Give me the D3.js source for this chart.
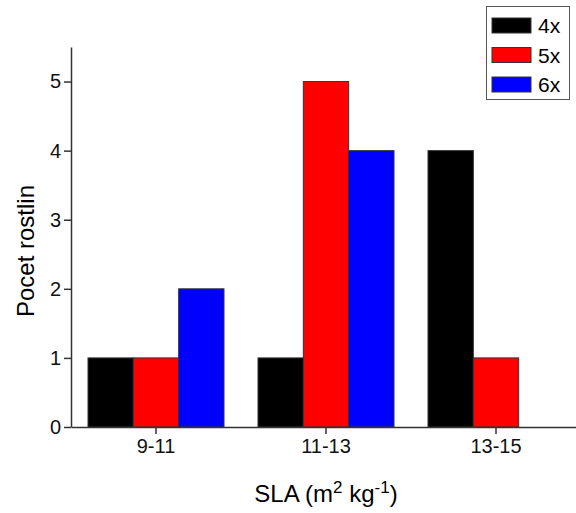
<!DOCTYPE html>
<html>
<head>
<meta charset="utf-8">
<script src="https://cdn.jsdelivr.net/npm/d3@7"></script>
<style>
  body { margin: 0; background: #fff; }
  svg { display: block; font-family: "Liberation Sans", Arial, sans-serif; }
  .axis path, .axis line { stroke: #333; stroke-width: 1.5; }
  .axis text { font-size: 20px; fill: #111; }
</style>
</head>
<body>
<svg id="chart" width="576" height="513"></svg>
<script>
var categories = ["9-11", "11-13", "13-15"];
var seriesNames = ["4x", "5x", "6x"];
var seriesColors = ["#000000", "#ff0000", "#0000ff"];
var values4x = [1, 1, 4];
var values5x = [1, 5, 1];
var values6x = [2, 4, 0];
var yTicks = [0, 1, 2, 3, 4, 5];

var allValues = [values4x, values5x, values6x];

var svg = d3.select("#chart");

var plotLeft = 71, plotBottom = 427, plotTop = 47;

var xScale = d3.scaleBand()
    .domain(categories)
    .range([plotLeft, plotLeft + 510])
    .paddingInner(0.2)
    .paddingOuter(0.1);

var xSub = d3.scaleBand()
    .domain(seriesNames)
    .range([0, xScale.bandwidth()]);

var yScale = d3.scaleLinear()
    .domain([0, 5.5])
    .range([plotBottom, plotTop]);

// bars
var groups = svg.append("g").selectAll("g")
    .data(categories)
    .enter()
    .append("g")
    .attr("transform", function(d) { return "translate(" + xScale(d) + ",0)"; });

groups.selectAll("rect")
    .data(function(d, i) {
        return seriesNames.map(function(s, j) {
            return { series: s, value: allValues[j][i], color: seriesColors[j] };
        }).filter(function(e) { return e.value > 0; });
    })
    .enter()
    .append("rect")
    .attr("x", function(d) { return xSub(d.series); })
    .attr("y", function(d) { return yScale(d.value); })
    .attr("width", xSub.bandwidth())
    .attr("height", function(d) { return plotBottom - yScale(d.value); })
    .attr("fill", function(d) { return d.color; })
    .attr("stroke", "#333")
    .attr("stroke-width", 1);

// axes
svg.append("g")
    .attr("class", "axis")
    .attr("transform", "translate(0," + plotBottom + ")")
    .call(d3.axisBottom(xScale).tickSizeInner(7).tickSizeOuter(0).tickPadding(5));

svg.append("g")
    .attr("class", "axis")
    .attr("transform", "translate(" + plotLeft + ",0)")
    .call(d3.axisLeft(yScale).tickValues(yTicks).tickFormat(d3.format("d"))
        .tickSizeInner(7).tickSizeOuter(0).tickPadding(3));

// axis titles
svg.append("text")
    .attr("transform", "translate(34,251) rotate(-90)")
    .attr("text-anchor", "middle")
    .style("font-size", "24px")
    .text("Pocet rostlin");

var xt = svg.append("text")
    .attr("x", 326)
    .attr("y", 502)
    .attr("text-anchor", "middle")
    .style("font-size", "24px");
xt.append("tspan").text("SLA (m");
xt.append("tspan").attr("dy", -9).style("font-size", "17px").text("2");
xt.append("tspan").attr("dy", 9).text(" kg");
xt.append("tspan").attr("dy", -9).style("font-size", "17px").text("-1");
xt.append("tspan").attr("dy", 9).text(")");

// legend
var legend = svg.append("g");
legend.append("rect")
    .attr("x", 486.5).attr("y", 6.5)
    .attr("width", 83).attr("height", 93)
    .attr("fill", "#fff")
    .attr("stroke", "#555")
    .attr("stroke-width", 1);

var items = legend.selectAll(".item")
    .data(seriesNames)
    .enter()
    .append("g")
    .attr("class", "item")
    .attr("transform", function(d, i) { return "translate(492," + (18 + i * 29.5) + ")"; });

items.append("rect")
    .attr("width", 39).attr("height", 15)
    .attr("fill", function(d, i) { return seriesColors[i]; })
    .attr("stroke", "#333")
    .attr("stroke-width", 1);

items.append("text")
    .attr("x", 46)
    .attr("y", 15)
    .style("font-size", "21px")
    .text(function(d) { return d; });
</script>
</body>
</html>
